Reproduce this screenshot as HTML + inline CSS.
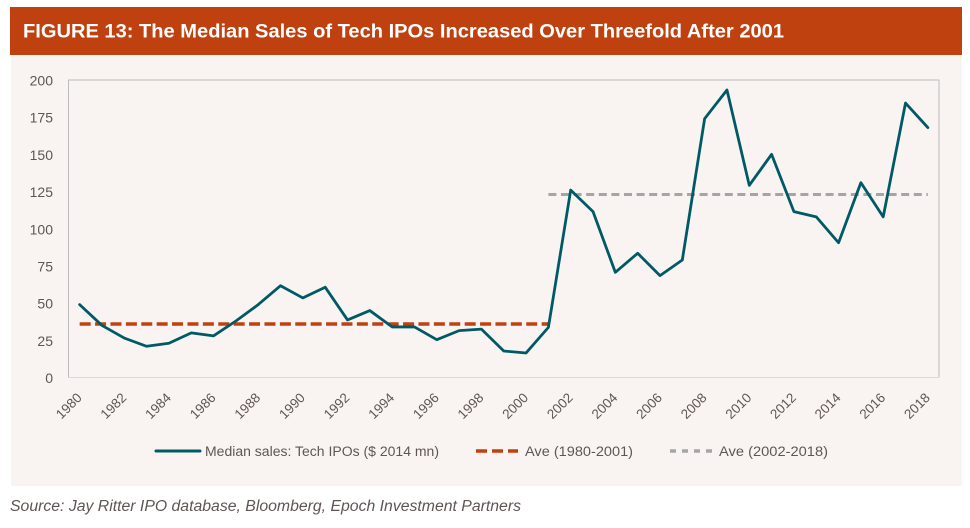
<!DOCTYPE html>
<html>
<head>
<meta charset="utf-8">
<style>
html,body{margin:0;padding:0;background:#fff;width:970px;height:528px;overflow:hidden}
svg{display:block;font-family:"Liberation Sans",sans-serif}
</style>
</head>
<body>
<svg id="chart" width="970" height="528" viewBox="0 0 970 528">
  <rect x="11" y="55" width="951" height="431" fill="#f9f4f2"/>
  <rect x="10" y="7" width="952" height="48" fill="#bf4110"/>
  <text x="23" y="37.5" font-size="19.5" font-weight="bold" fill="#fff" textLength="761" lengthAdjust="spacingAndGlyphs">FIGURE 13: The Median Sales of Tech IPOs Increased Over Threefold After 2001</text>
  <g id="plot"></g>
  <g>
    <g>
      <line x1="156" y1="451" x2="200" y2="451" stroke="#005a66" stroke-width="3" stroke-linecap="round"/>
      <text x="205" y="456" font-size="13.5" fill="#5f5555" textLength="234" lengthAdjust="spacingAndGlyphs">Median sales: Tech IPOs ($  2014 mn)</text>
    </g>
    <g>
      <line x1="476" y1="451" x2="518" y2="451" stroke="#bf4110" stroke-width="3.5" stroke-dasharray="11 5"/>
      <text x="525" y="456" font-size="13.5" fill="#5f5555" textLength="108" lengthAdjust="spacingAndGlyphs">Ave (1980-2001)</text>
    </g>
    <g>
      <line x1="670" y1="451" x2="713" y2="451" stroke="#a5a5a5" stroke-width="3.5" stroke-dasharray="6 6"/>
      <text x="719" y="456" font-size="13.5" fill="#5f5555" textLength="109" lengthAdjust="spacingAndGlyphs">Ave (2002-2018)</text>
    </g>
  </g>
  <text x="10" y="511" font-size="15.5" font-style="italic" fill="#5f5555" textLength="511" lengthAdjust="spacingAndGlyphs">Source: Jay Ritter IPO database, Bloomberg, Epoch Investment Partners</text>
</svg>
<script>
var years = [1980,1981,1982,1983,1984,1985,1986,1987,1988,1989,1990,1991,1992,1993,1994,1995,1996,1997,1998,1999,2000,2001,2002,2003,2004,2005,2006,2007,2008,2009,2010,2011,2012,2013,2014,2015,2016,2017,2018];
var medianSales = [49,35,26.5,21,23,30,28,38,49,61.7,53.5,60.7,38.7,45,34,34,25.4,31.5,32.5,17.8,16.5,33.7,126,111.5,70.7,83.5,68.5,79,174,193.3,129.2,150,111.5,108,90.6,131,108,184.5,168];
var aveEarlyYears = [1980,2001];
var aveEarlyValue = [36,36];
var aveLateYears = [2001,2018];
var aveLateValue = [123,123];
var yTicks = [0,25,50,75,100,125,150,175,200];
var xTickLabels = [1980,1982,1984,1986,1988,1990,1992,1994,1996,1998,2000,2002,2004,2006,2008,2010,2012,2014,2016,2018];

var plotLeft = 68.5, plotRight = 939, plotTop = 80, plotBottom = 377.5;
var yMax = 200;
var NS = 'http://www.w3.org/2000/svg';
var plot = document.getElementById('plot');

function xScale(year) {
  var band = (plotRight - plotLeft) / years.length;
  return plotLeft + band * (year - years[0] + 0.5);
}
function yScale(v) {
  return plotBottom - (v / yMax) * (plotBottom - plotTop);
}
function make(tag, attrs) {
  var el = document.createElementNS(NS, tag);
  for (var k in attrs) el.setAttribute(k, attrs[k]);
  plot.appendChild(el);
  return el;
}
function pts(xs, ys) {
  return xs.map(function (x, i) { return xScale(x).toFixed(2) + ',' + yScale(ys[i]).toFixed(2); }).join(' ');
}

var frameTop = make('path', {d: 'M' + plotLeft + ' ' + plotBottom + 'V' + plotTop + 'H' + plotRight + 'V' + plotBottom, fill: 'none', stroke: '#bcbcbc', 'stroke-width': 1});



var xAxis = make('line', {x1: plotLeft, x2: plotRight, y1: plotBottom, y2: plotBottom, stroke: '#d9d9d9', 'stroke-width': 1});



yTicks.forEach(function (t) {
  var label = make('text', {x: 53, y: yScale(t) + 5.5, 'text-anchor': 'end', 'font-size': 14, fill: '#5f5555'});
  label.textContent = t;
  
  
});

xTickLabels.forEach(function (yr) {
  var tx = xScale(yr) + 3, ty = 398.5;
  var label = make('text', {x: tx, y: ty, 'text-anchor': 'end', 'font-size': 13.5, fill: '#5f5555', transform: 'rotate(-45 ' + tx + ' ' + ty + ')'});
  label.textContent = yr;
  
  
});

var lateLine = make('polyline', {points: pts(aveLateYears, aveLateValue), fill: 'none', stroke: '#a5a5a5', 'stroke-width': 3, 'stroke-dasharray': '8 4.6'});



var earlyLine = make('polyline', {points: pts(aveEarlyYears, aveEarlyValue), fill: 'none', stroke: '#bf4110', 'stroke-width': 3.5, 'stroke-dasharray': '11 4.4'});



var salesLine = make('polyline', {points: pts(years, medianSales), fill: 'none', stroke: '#005a66', 'stroke-width': 2.8, 'stroke-linejoin': 'round', 'stroke-linecap': 'round'});


</script>
</body>
</html>
